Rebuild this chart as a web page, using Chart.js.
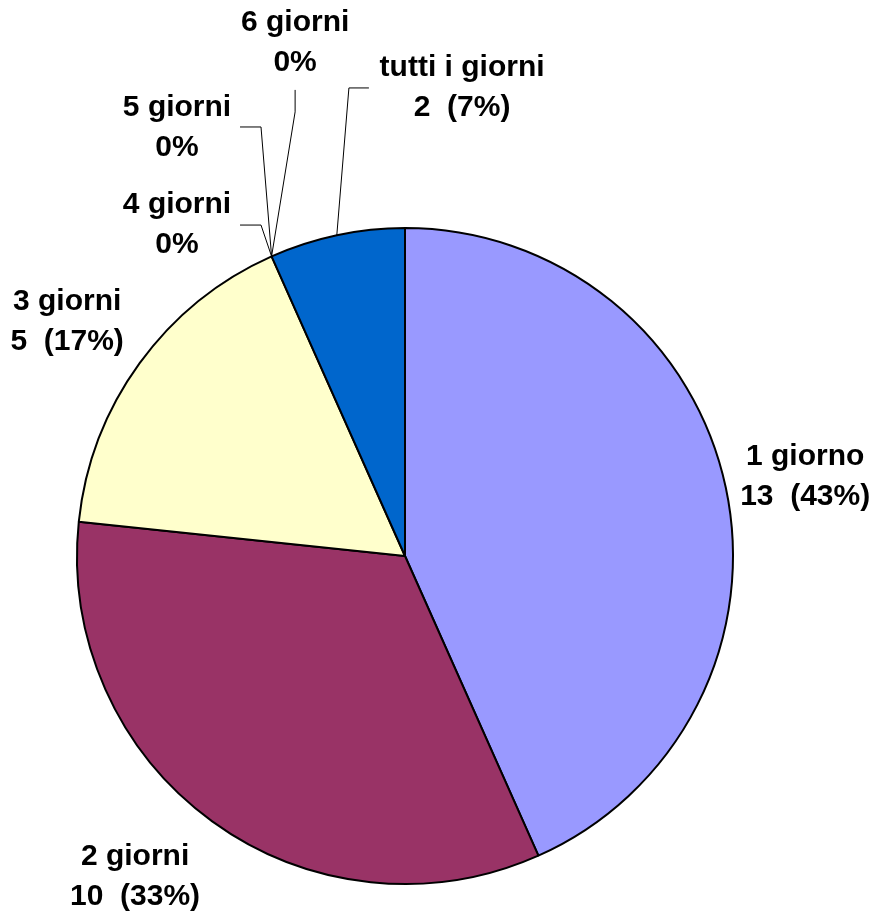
<!DOCTYPE html>
<html>
<head>
<meta charset="utf-8">
<script src="https://cdn.jsdelivr.net/npm/chart.js@4/dist/chart.umd.min.js"></script>
<style>
  body { margin: 0; background: #fff; }
</style>
</head>
<body>
<canvas id="chart" width="877" height="915"></canvas>
<script>
const categories = ['1 giorno', '2 giorni', '3 giorni', '4 giorni', '5 giorni', '6 giorni', 'tutti i giorni'];
const counts = [13, 10, 5, 0, 0, 0, 2];
const sliceColors = ['#9999FF', '#993366', '#FFFFCC', '#FFFFCC', '#FFFFCC', '#FFFFCC', '#0066CC'];

// label placement, in units of the pie radius, relative to the centre
const labelSpots = [
  { x: 1.220, y: -0.241 },
  { x: -0.823, y: 0.979 },
  { x: -1.030, y: -0.713 },
  { x: -0.695, y: -1.009, elbow: [-0.439, -1.009], end: [-0.503, -1.009] },
  { x: -0.695, y: -1.305, elbow: [-0.439, -1.308], end: [-0.503, -1.308] },
  { x: -0.335, y: -1.564, elbow: [-0.335, -1.354], end: [-0.335, -1.421] },
  { x: 0.174, y: -1.427, elbow: [-0.171, -1.427], end: [-0.110, -1.427] }
];

const total = counts.reduce((a, b) => a + b, 0);

const pieLabels = {
  id: 'pieLabels',
  afterDatasetsDraw(chart) {
    const ctx = chart.ctx;
    const meta = chart.getDatasetMeta(0);
    ctx.save();
    meta.data.forEach((arc, i) => {
      const R = arc.outerRadius;
      const cx = arc.x, cy = arc.y;
      const spot = labelSpots[i];
      if (spot.elbow) {
        const mid = (arc.startAngle + arc.endAngle) / 2;
        ctx.strokeStyle = '#000';
        ctx.lineWidth = 1;
        ctx.beginPath();
        ctx.moveTo(cx + Math.cos(mid) * R, cy + Math.sin(mid) * R);
        ctx.lineTo(cx + spot.elbow[0] * R, cy + spot.elbow[1] * R);
        ctx.lineTo(cx + spot.end[0] * R, cy + spot.end[1] * R);
        ctx.stroke();
      }
      const pct = Math.round(counts[i] / total * 100);
      const second = counts[i] === 0 ? pct + '%' : counts[i] + '  (' + pct + '%)';
      ctx.fillStyle = '#000';
      ctx.font = 'bold 30px "Liberation Sans", Arial, sans-serif';
      ctx.textAlign = 'center';
      ctx.textBaseline = 'middle';
      const lx = cx + spot.x * R, ly = cy + spot.y * R;
      ctx.fillText(categories[i], lx, ly - 20);
      ctx.fillText(second, lx, ly + 20);
    });
    ctx.restore();
  }
};

new Chart(document.getElementById('chart'), {
  type: 'pie',
  data: {
    labels: categories,
    datasets: [{
      data: counts,
      backgroundColor: sliceColors,
      borderColor: '#000',
      borderWidth: 2
    }]
  },
  options: {
    responsive: false,
    animation: false,
    layout: { padding: { left: 76, right: 143, top: 227, bottom: 30 } },
    plugins: {
      legend: { display: false },
      tooltip: { enabled: false }
    }
  },
  plugins: [pieLabels]
});
</script>
</body>
</html>
